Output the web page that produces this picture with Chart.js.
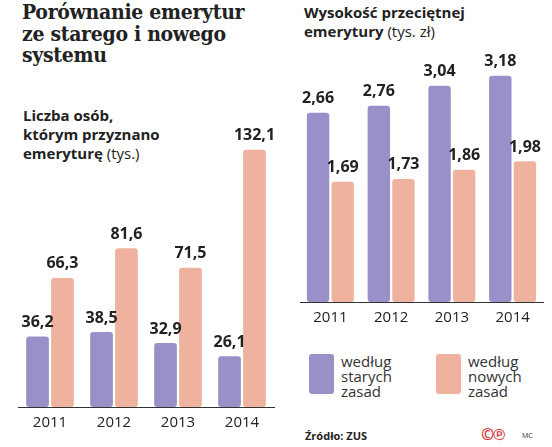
<!DOCTYPE html>
<html>
<head>
<meta charset="utf-8">
<script src="https://cdn.jsdelivr.net/npm/chart.js@4/dist/chart.umd.min.js"></script>
<style>
  body { margin:0; background:#fff; width:552px; height:447px; overflow:hidden; position:relative; font-family:"Open Sans", sans-serif; color:#222; }
  .abs { position:absolute; }
  #title { left:22px; top:1px; font-family:"DejaVu Serif", serif; font-weight:bold; font-size:21px; line-height:21.5px; font-stretch:condensed; letter-spacing:-0.3px; color:#222; }
  .sub { font-weight:bold; font-size:15px; line-height:19px; color:#222; }
  .sub span { font-weight:normal; }
  #sub1 { left:23px; top:106px; }
  #sub2 { left:304px; top:3px; }
  #c1 { left:0; top:105px; }
  #c2 { left:290px; top:40px; }
  .leg { top:354px; display:flex; }
  .leg .box { width:25px; height:40px; border-radius:3px; margin-right:7px; }
  .leg .txt { font-size:15px; line-height:15px; color:#333; }
  #leg1 { left:309px; }
  #leg2 { left:436px; }
  #src { left:305px; top:428px; font-size:11px; font-weight:bold; color:#222; }
  #cp { left:481px; top:425px; font-size:16px; line-height:18px; color:#d8383f; font-weight:bold; letter-spacing:-1px; }
  #mc { left:522px; top:431px; font-size:7px; color:#333; }
</style>
</head>
<body>
<div id="title" class="abs">Porównanie emerytur<br>ze starego i nowego<br>systemu</div>
<div id="sub1" class="abs sub">Liczba osób,<br>którym przyznano<br>emeryturę <span>(tys.)</span></div>
<div id="sub2" class="abs sub">Wysokość przeciętnej<br>emerytury <span>(tys. zł)</span></div>
<canvas id="c1" class="abs" width="290" height="330"></canvas>
<canvas id="c2" class="abs" width="262" height="290"></canvas>
<div id="leg1" class="abs leg"></div>
<div id="leg2" class="abs leg"></div>
<div id="src" class="abs">Źródło: ZUS</div>
<div id="cp" class="abs">©℗</div>
<div id="mc" class="abs">MC</div>
<script>
// data
var years = ['2011', '2012', '2013', '2014'];
var seriesNames = [['według', 'starych', 'zasad'], ['według', 'nowych', 'zasad']];
var colors = ['#9a8fc8', '#efb29e'];
var personsOld = [36.2, 38.5, 32.9, 26.1];
var personsNew = [66.3, 81.6, 71.5, 132.1];
var pensionOld = [2.66, 2.76, 3.04, 3.18];
var pensionNew = [1.69, 1.73, 1.86, 1.98];

Chart.defaults.font.family = '"Open Sans", sans-serif';
Chart.defaults.color = '#222';

var valueLabels = {
  id: 'valueLabels',
  afterDatasetsDraw: function(chart, args, opts) {
    var ctx = chart.ctx;
    ctx.save();
    ctx.font = 'bold 16px "Open Sans", sans-serif';
    ctx.fillStyle = '#222';
    ctx.textAlign = 'center';
    ctx.textBaseline = 'bottom';
    chart.data.datasets.forEach(function(ds, i) {
      chart.getDatasetMeta(i).data.forEach(function(bar, j) {
        var txt = ds.data[j].toFixed(opts.decimals).replace('.', ',');
        ctx.fillText(txt, bar.x, bar.y - 6);
      });
    });
    ctx.restore();
  }
};

function makeChart(id, a, b, max, catPct, decimals, padL, padR, padT) {
  return new Chart(document.getElementById(id), {
    type: 'bar',
    data: {
      labels: years,
      datasets: [
        { label: seriesNames[0].join(' '), data: a, backgroundColor: colors[0] },
        { label: seriesNames[1].join(' '), data: b, backgroundColor: colors[1] }
      ]
    },
    options: {
      responsive: false,
      animation: false,
      layout: { padding: { left: padL, right: padR, top: padT, bottom: 0 } },
      datasets: { bar: { categoryPercentage: catPct, barPercentage: 0.91, borderRadius: 3, borderSkipped: false } },
      plugins: { legend: { display: false }, tooltip: { enabled: false }, valueLabels: { decimals: decimals } },
      scales: {
        x: {
          grid: { display: false, drawTicks: false },
          border: { display: true, color: '#333', dash: [1, 2], width: 1 },
          ticks: { font: { size: 15 }, color: '#222', padding: 7 },
          afterFit: function(s) { s.height = 28; }
        },
        y: { display: false, min: 0, max: max }
      }
    },
    plugins: [valueLabels]
  });
}

makeChart('c1', personsOld, personsNew, 150, 0.78, 1, 18, 16, 10);
makeChart('c2', pensionOld, pensionNew, 3.5, 0.81, 2, 10, 9, 13);

// legend
[0, 1].forEach(function(i) {
  var el = document.getElementById('leg' + (i + 1));
  el.innerHTML = '<div class="box" style="background:' + colors[i] + '"></div><div class="txt">' + seriesNames[i].join('<br>') + '</div>';
});
</script>
</body>
</html>
